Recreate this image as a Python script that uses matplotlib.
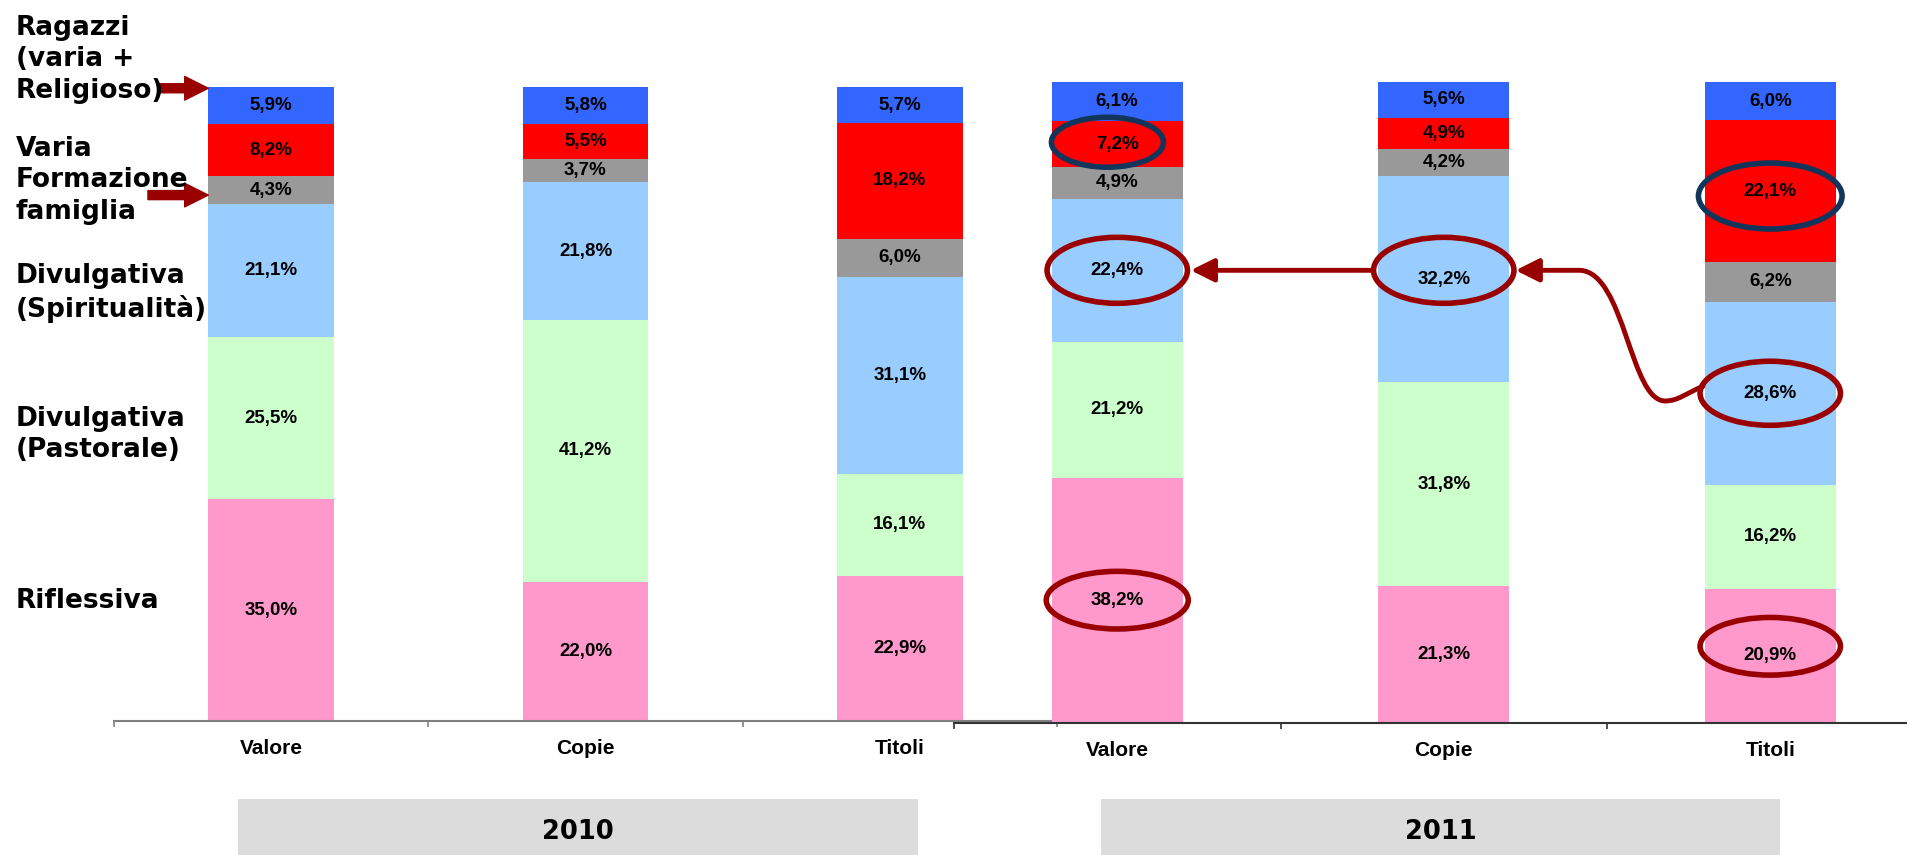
import matplotlib
matplotlib.use('Agg')
import matplotlib.pyplot as plt
from matplotlib.patches import Ellipse, Rectangle, FancyArrowPatch
from matplotlib.path import Path
import numpy as np

# ---------------- data ----------------
categories = ['Valore', 'Copie', 'Titoli']
years = ['2010', '2011']
series_labels = ['Riflessiva', 'Divulgativa\n(Pastorale)', 'Divulgativa\n(Spiritualità)',
                 'Varia\nFormazione\nfamiglia', '', 'Ragazzi\n(varia +\nReligioso)']

riflessiva_2010 = [35.0, 22.0, 22.9]
pastorale_2010 = [25.5, 41.2, 16.1]
spiritualita_2010 = [21.1, 21.8, 31.1]
famiglia_2010 = [4.3, 3.7, 6.0]
varia_2010 = [8.2, 5.5, 18.2]
ragazzi_2010 = [5.9, 5.8, 5.7]

riflessiva_2011 = [38.2, 21.3, 20.9]
pastorale_2011 = [21.2, 31.8, 16.2]
spiritualita_2011 = [22.4, 32.2, 28.6]
famiglia_2011 = [4.9, 4.2, 6.2]
varia_2011 = [7.2, 4.9, 22.1]
ragazzi_2011 = [6.1, 5.6, 6.0]

colors = ['#FF99CC', '#CCFFCC', '#99CCFF', '#999999', '#FF0000', '#3366FF']

series_2010 = [riflessiva_2010, pastorale_2010, spiritualita_2010, famiglia_2010, varia_2010, ragazzi_2010]
series_2011 = [riflessiva_2011, pastorale_2011, spiritualita_2011, famiglia_2011, varia_2011, ragazzi_2011]

# ---------------- figure ----------------
plt.rcParams['font.family'] = ['DejaVu Sans']
W, H = 1907, 855
fig = plt.figure(figsize=(W / 100, H / 100), dpi=100)

ax1 = fig.add_axes([114 / W, (H - 721) / H, 943 / W, 634 / H])
ax2 = fig.add_axes([954 / W, (H - 722.5) / H, 979.5 / W, 640.5 / H])

LABEL_FONT = dict(family='Liberation Sans', fontweight='bold', fontsize=13.5, color='black')
x = np.arange(len(categories))
bar_w = 0.4


def fmt(v):
    return f"{v:.1f}%".replace('.', ',')


def draw(ax, series, spine_color):
    ax.set_facecolor('none')
    bottom = np.zeros(len(categories))
    for vals, col in zip(series, colors):
        vals = np.array(vals)
        ax.bar(x, vals, bar_w, bottom=bottom, color=col, edgecolor='none',
               linewidth=0, zorder=2)
        for xi, b, v in zip(x, bottom, vals):
            ax.text(xi, b + v / 2, fmt(v), ha='center', va='center', zorder=4, **LABEL_FONT)
        bottom = bottom + vals
    ax.set_xlim(-0.5, 2.5)
    ax.set_ylim(0, 100)
    for s in ['left', 'right', 'top']:
        ax.spines[s].set_visible(False)
    ax.spines['bottom'].set_color(spine_color)
    ax.spines['bottom'].set_linewidth(1.5)
    ax.set_yticks([])
    ax.set_xticks([-0.5, 0.5, 1.5, 2.5])
    ax.set_xticklabels([])
    ax.tick_params(axis='x', which='major', length=4, width=1.2, color=spine_color, direction='out')
    ax.set_xticks(x, minor=True)
    ax.set_xticklabels(categories, minor=True, family='Liberation Sans', fontweight='bold', fontsize=15)
    ax.tick_params(axis='x', which='minor', length=0, pad=13)


draw(ax1, series_2010, '#808080')
draw(ax2, series_2011, '#333333')

# ---------------- left category names ----------------
label_tops = [590, 408, 265, 138, None, 17]
for txt, top in zip(series_labels, label_tops):
    if not txt:
        continue
    fig.text(16 / W, 1 - (top - 2) / H, txt, ha='left', va='top', fontsize=19,
             fontweight='bold', family='DejaVu Sans', linespacing=1.27)

DARKRED = '#990000'
NAVY = '#12355B'

# block arrows pointing at bar 1 (2010 Valore)
cum1 = np.cumsum([s[0] for s in series_2010])
for tail_x, yv in [(-0.354, cum1[-1] - 0.2), (-0.392, (cum1[2] + cum1[3]) / 2 - 0.8)]:
    a = FancyArrowPatch(posA=(tail_x, yv), posB=(-bar_w / 2, yv),
                        arrowstyle='simple,head_length=17,head_width=17,tail_width=6.5',
                        mutation_scale=1, color=DARKRED, shrinkA=0, shrinkB=0,
                        clip_on=False, zorder=6)
    ax1.add_patch(a)

# ---------------- ellipses on 2011 ----------------
ell_w = 0.43
ellipses = [
    (0, 70.6, ell_w, 10.3, DARKRED),
    (1, 70.6, ell_w, 10.3, DARKRED),
    (2, 51.4, ell_w, 10.0, DARKRED),
    (2, 11.9, ell_w, 9.0, DARKRED),
    (0, 19.1, 0.435, 9.0, DARKRED),
    (-0.03, 90.6, 0.343, 7.8, NAVY),
    (2, 82.2, 0.44, 10.3, NAVY),
]
for cx, cy, ew, eh, col in ellipses:
    ax2.add_patch(Ellipse((cx, cy), ew, eh, fill=False, edgecolor=col, lw=4,
                          zorder=5, clip_on=False))

# straight arrow 32,2% -> 22,4%
arr = FancyArrowPatch(posA=(1 - ell_w / 2, 70.6), posB=(ell_w / 2 + 0.01, 70.6),
                      arrowstyle='-|>,head_length=14,head_width=7', mutation_scale=1,
                      lw=3.5, color=DARKRED, shrinkA=0, shrinkB=0, zorder=6)
ax2.add_patch(arr)

# curved arrow 28,6% -> 32,2%
verts = [(1.794, 52.5), (1.739, 51.3), (1.717, 50.2), (1.678, 50.2),
         (1.570, 50.2), (1.555, 70.3), (1.417, 70.6), (1 + ell_w / 2 + 0.005, 70.6)]
codes = [Path.MOVETO, Path.CURVE4, Path.CURVE4, Path.CURVE4,
         Path.CURVE4, Path.CURVE4, Path.CURVE4, Path.LINETO]
curve = FancyArrowPatch(path=Path(verts, codes),
                        arrowstyle='-|>,head_length=14,head_width=7', mutation_scale=1,
                        lw=3.5, color=DARKRED, zorder=6)
ax2.add_patch(curve)

# ---------------- year boxes ----------------
for yr, (x0, x1) in zip(years, [(238, 918), (1101, 1780)]):
    fig.add_artist(Rectangle((x0 / W, 0), (x1 - x0) / W, (H - 799) / H,
                             transform=fig.transFigure, facecolor='#DCDCDC',
                             edgecolor='none', zorder=0))
    fig.text((x0 + x1) / 2 / W, 1 - 832 / H, yr, ha='center', va='center',
             fontsize=18.5, fontweight='bold', family='DejaVu Sans')

fig.savefig('out.png', dpi=100)
